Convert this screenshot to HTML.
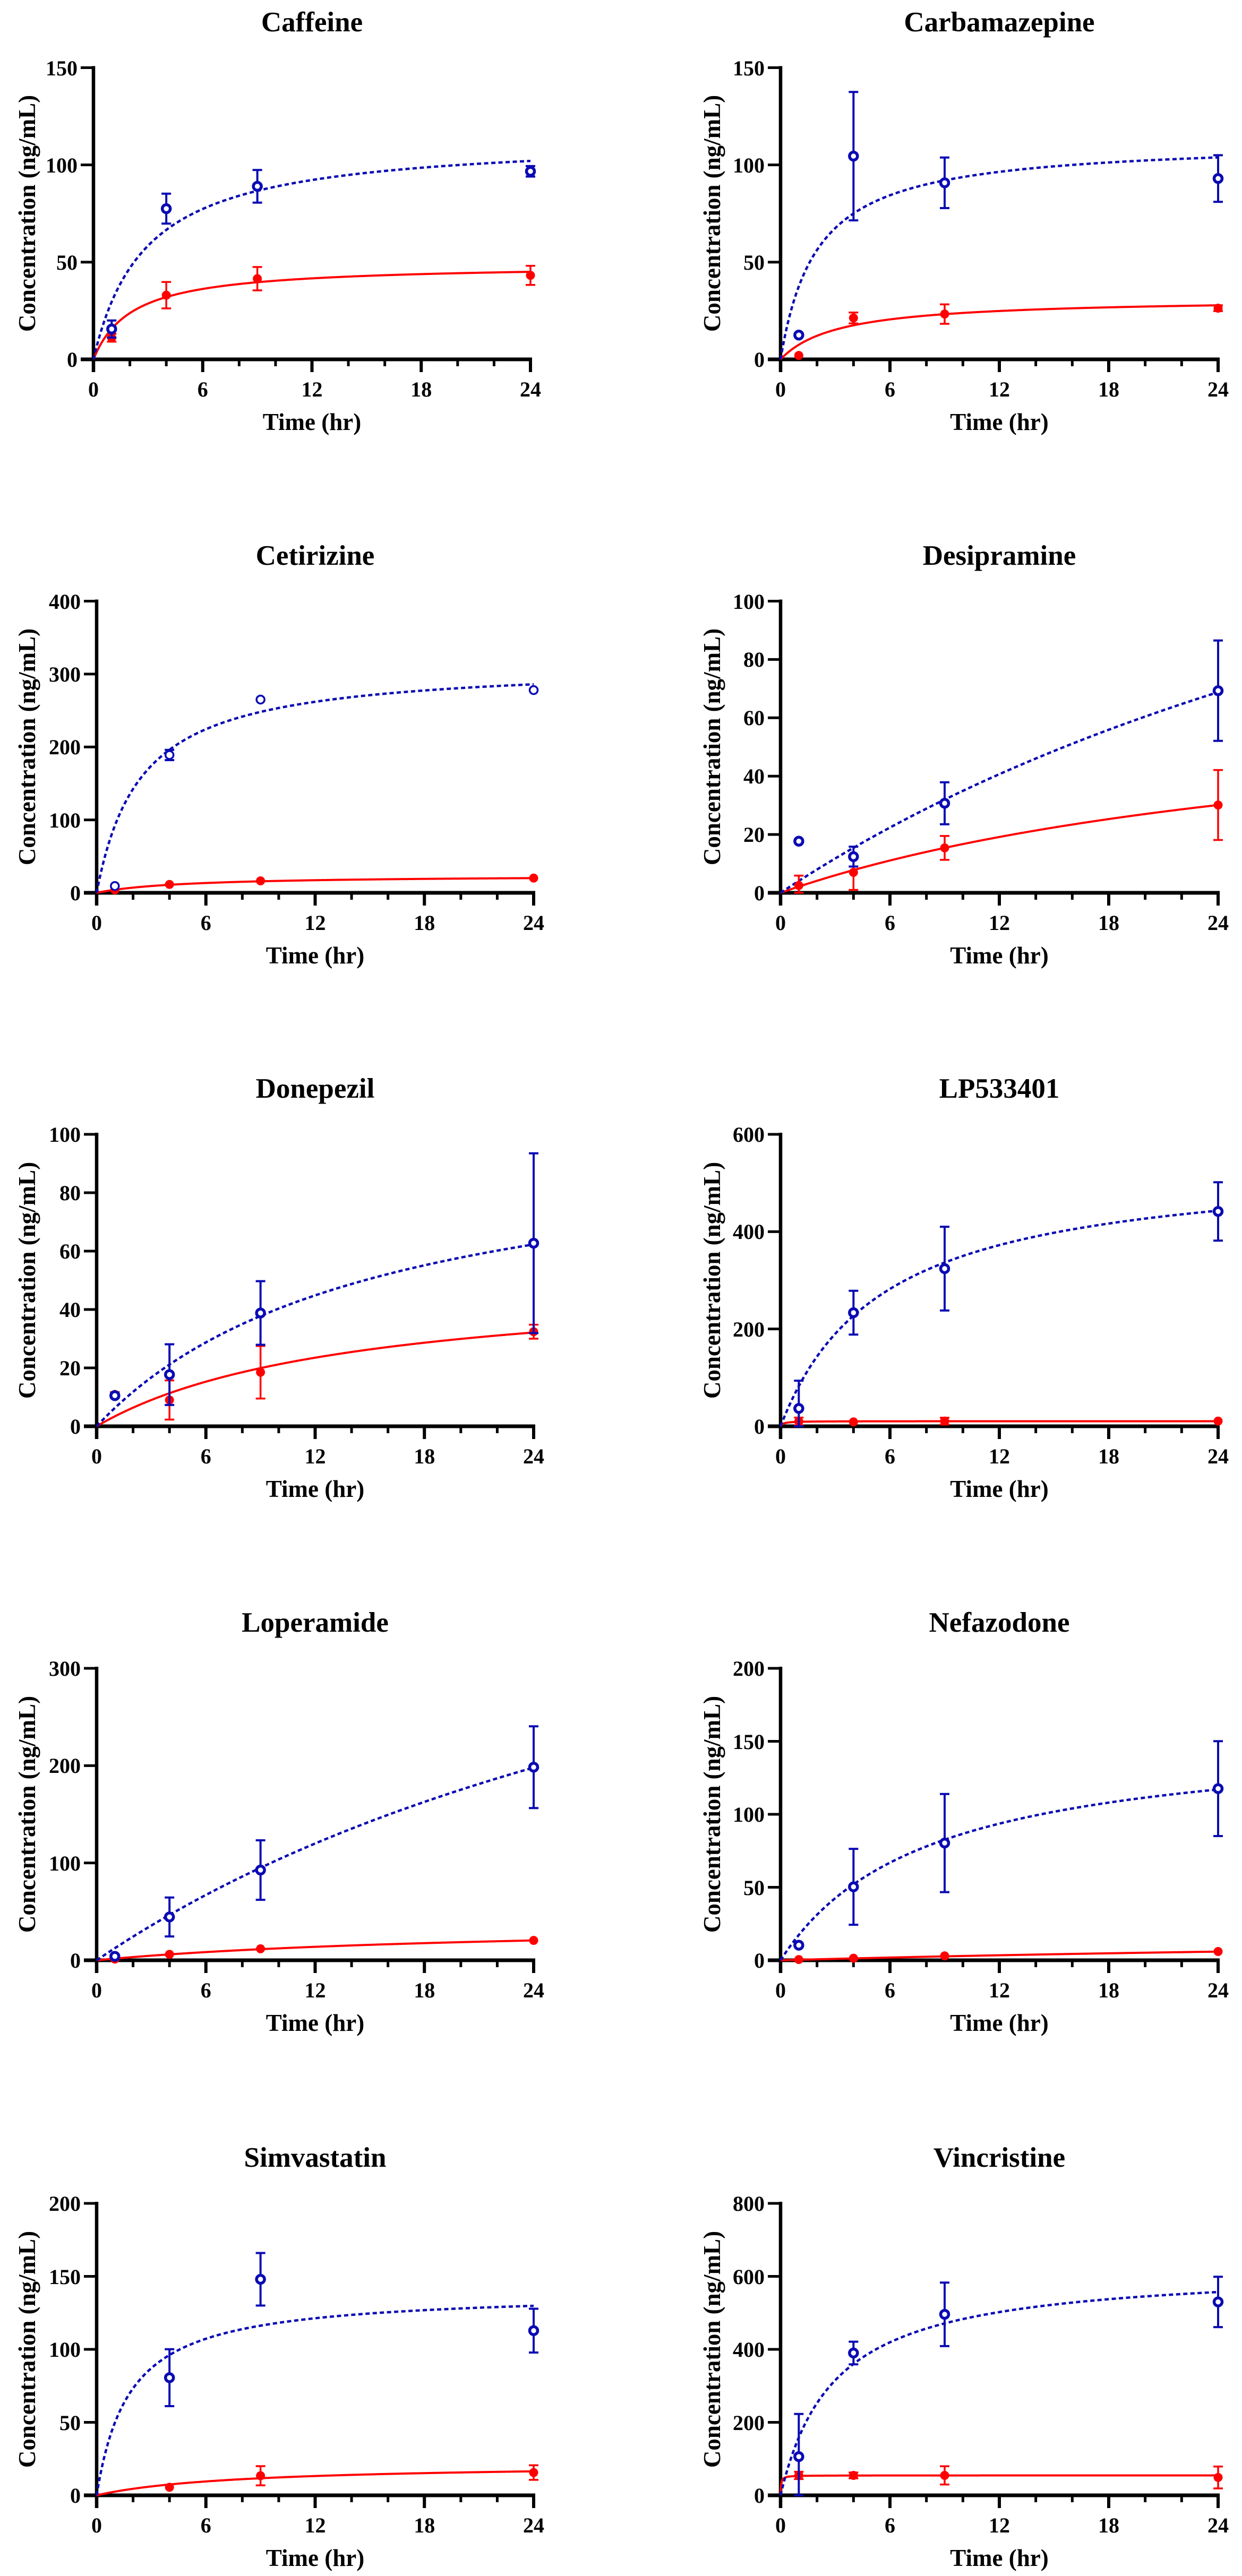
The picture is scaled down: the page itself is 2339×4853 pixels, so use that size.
<!DOCTYPE html>
<html><head><meta charset="utf-8"><style>
html,body{margin:0;padding:0;background:#fff;}
svg{display:block;}
text{font-family:"Liberation Serif","Times New Roman",serif;font-weight:bold;fill:#000;}
.t{font-size:53px;text-anchor:middle;}
.yl{font-size:40px;text-anchor:end;}
.xl{font-size:40px;text-anchor:middle;}
.ax{font-size:45px;text-anchor:middle;}
</style></head><body>
<svg id="s" xmlns="http://www.w3.org/2000/svg" width="2339" height="4853" viewBox="0 0 2339 4853">
<rect x="0" y="0" width="2339" height="4853" fill="#fff"/>
<g id="g"></g>
<g>
<!-- Panel 1 Caffeine -->
<text class="t" x="587.5" y="59">Caffeine</text>
<text class="yl" x="146" y="691">0</text><text class="yl" x="146" y="508">50</text><text class="yl" x="146" y="325">100</text><text class="yl" x="146" y="142">150</text>
<text class="xl" x="176" y="747">0</text><text class="xl" x="381.75" y="747">6</text><text class="xl" x="587.5" y="747">12</text><text class="xl" x="793.25" y="747">18</text><text class="xl" x="999" y="747">24</text>
<text class="ax" x="587.5" y="810">Time (hr)</text>
<text class="ax" transform="translate(66,402) rotate(-90)">Concentration (ng/mL)</text>
<!-- Panel 2 Carbamazepine -->
<text class="t" x="1882" y="59">Carbamazepine</text>
<text class="yl" x="1440" y="691">0</text><text class="yl" x="1440" y="508">50</text><text class="yl" x="1440" y="325">100</text><text class="yl" x="1440" y="142">150</text>
<text class="xl" x="1470" y="747">0</text><text class="xl" x="1676" y="747">6</text><text class="xl" x="1882" y="747">12</text><text class="xl" x="2088" y="747">18</text><text class="xl" x="2294" y="747">24</text>
<text class="ax" x="1882" y="810">Time (hr)</text>
<text class="ax" transform="translate(1356,402) rotate(-90)">Concentration (ng/mL)</text>
<!-- Panel 3 Cetirizine -->
<text class="t" x="593.5" y="1064">Cetirizine</text>
<text class="yl" x="152" y="1696">0</text><text class="yl" x="152" y="1559">100</text><text class="yl" x="152" y="1421">200</text><text class="yl" x="152" y="1284">300</text><text class="yl" x="152" y="1147">400</text>
<text class="xl" x="182" y="1752">0</text><text class="xl" x="387.75" y="1752">6</text><text class="xl" x="593.5" y="1752">12</text><text class="xl" x="799.25" y="1752">18</text><text class="xl" x="1005" y="1752">24</text>
<text class="ax" x="593.5" y="1815">Time (hr)</text>
<text class="ax" transform="translate(66,1407) rotate(-90)">Concentration (ng/mL)</text>
<!-- Panel 4 Desipramine -->
<text class="t" x="1882" y="1064">Desipramine</text>
<text class="yl" x="1440" y="1696">0</text><text class="yl" x="1440" y="1586">20</text><text class="yl" x="1440" y="1476">40</text><text class="yl" x="1440" y="1366">60</text><text class="yl" x="1440" y="1256">80</text><text class="yl" x="1440" y="1147">100</text>
<text class="xl" x="1470" y="1752">0</text><text class="xl" x="1676" y="1752">6</text><text class="xl" x="1882" y="1752">12</text><text class="xl" x="2088" y="1752">18</text><text class="xl" x="2294" y="1752">24</text>
<text class="ax" x="1882" y="1815">Time (hr)</text>
<text class="ax" transform="translate(1356,1407) rotate(-90)">Concentration (ng/mL)</text>
<!-- Panel 5 Donepezil -->
<text class="t" x="593.5" y="2068">Donepezil</text>
<text class="yl" x="152" y="2701">0</text><text class="yl" x="152" y="2591">20</text><text class="yl" x="152" y="2481">40</text><text class="yl" x="152" y="2371">60</text><text class="yl" x="152" y="2261">80</text><text class="yl" x="152" y="2151">100</text>
<text class="xl" x="182" y="2757">0</text><text class="xl" x="387.75" y="2757">6</text><text class="xl" x="593.5" y="2757">12</text><text class="xl" x="799.25" y="2757">18</text><text class="xl" x="1005" y="2757">24</text>
<text class="ax" x="593.5" y="2820">Time (hr)</text>
<text class="ax" transform="translate(66,2412) rotate(-90)">Concentration (ng/mL)</text>
<!-- Panel 6 LP533401 -->
<text class="t" x="1882" y="2068">LP533401</text>
<text class="yl" x="1440" y="2701">0</text><text class="yl" x="1440" y="2518">200</text><text class="yl" x="1440" y="2334">400</text><text class="yl" x="1440" y="2151">600</text>
<text class="xl" x="1470" y="2757">0</text><text class="xl" x="1676" y="2757">6</text><text class="xl" x="1882" y="2757">12</text><text class="xl" x="2088" y="2757">18</text><text class="xl" x="2294" y="2757">24</text>
<text class="ax" x="1882" y="2820">Time (hr)</text>
<text class="ax" transform="translate(1356,2412) rotate(-90)">Concentration (ng/mL)</text>
<!-- Panel 7 Loperamide -->
<text class="t" x="593.5" y="3074">Loperamide</text>
<text class="yl" x="152" y="3707">0</text><text class="yl" x="152" y="3524">100</text><text class="yl" x="152" y="3340">200</text><text class="yl" x="152" y="3157">300</text>
<text class="xl" x="182" y="3763">0</text><text class="xl" x="387.75" y="3763">6</text><text class="xl" x="593.5" y="3763">12</text><text class="xl" x="799.25" y="3763">18</text><text class="xl" x="1005" y="3763">24</text>
<text class="ax" x="593.5" y="3826">Time (hr)</text>
<text class="ax" transform="translate(66,3418) rotate(-90)">Concentration (ng/mL)</text>
<!-- Panel 8 Nefazodone -->
<text class="t" x="1882" y="3074">Nefazodone</text>
<text class="yl" x="1440" y="3707">0</text><text class="yl" x="1440" y="3570">50</text><text class="yl" x="1440" y="3432">100</text><text class="yl" x="1440" y="3295">150</text><text class="yl" x="1440" y="3157">200</text>
<text class="xl" x="1470" y="3763">0</text><text class="xl" x="1676" y="3763">6</text><text class="xl" x="1882" y="3763">12</text><text class="xl" x="2088" y="3763">18</text><text class="xl" x="2294" y="3763">24</text>
<text class="ax" x="1882" y="3826">Time (hr)</text>
<text class="ax" transform="translate(1356,3418) rotate(-90)">Concentration (ng/mL)</text>
<!-- Panel 9 Simvastatin -->
<text class="t" x="593.5" y="4082">Simvastatin</text>
<text class="yl" x="152" y="4715">0</text><text class="yl" x="152" y="4578">50</text><text class="yl" x="152" y="4440">100</text><text class="yl" x="152" y="4303">150</text><text class="yl" x="152" y="4165">200</text>
<text class="xl" x="182" y="4771">0</text><text class="xl" x="387.75" y="4771">6</text><text class="xl" x="593.5" y="4771">12</text><text class="xl" x="799.25" y="4771">18</text><text class="xl" x="1005" y="4771">24</text>
<text class="ax" x="593.5" y="4834">Time (hr)</text>
<text class="ax" transform="translate(66,4426) rotate(-90)">Concentration (ng/mL)</text>
<!-- Panel 10 Vincristine -->
<text class="t" x="1882" y="4082">Vincristine</text>
<text class="yl" x="1440" y="4715">0</text><text class="yl" x="1440" y="4578">200</text><text class="yl" x="1440" y="4440">400</text><text class="yl" x="1440" y="4303">600</text><text class="yl" x="1440" y="4165">800</text>
<text class="xl" x="1470" y="4771">0</text><text class="xl" x="1676" y="4771">6</text><text class="xl" x="1882" y="4771">12</text><text class="xl" x="2088" y="4771">18</text><text class="xl" x="2294" y="4771">24</text>
<text class="ax" x="1882" y="4834">Time (hr)</text>
<text class="ax" transform="translate(1356,4426) rotate(-90)">Concentration (ng/mL)</text>
</g>
</svg>
<script>
(function(){
var NS='http://www.w3.org/2000/svg';
var G=document.getElementById('g');
function el(tag,a){var e=document.createElementNS(NS,tag);for(var k in a)e.setAttribute(k,a[k]);G.appendChild(e);return e;}
var BLUE='#0a0ab4',RED='#ff0000';
var P=[
{x0:176,x1:999,yT:127.5,yB:677,ymax:150,step:50,
 b:{B:114.2,K:2.86,pts:[[1,15.6,4.4],[4,77.5,7.7],[9,89,8.4],[24,96.7,2.7]]},
 r:{B:49,K:2.12,pts:[[1,11.1,2],[4,33,6.8],[9,41.5,6],[24,43.2,4.9]]}},
{x0:1470,x1:2294,yT:127.5,yB:677,ymax:150,step:50,
 b:{B:112.5,K:2.0,pts:[[1,12.5,0],[4,104.5,33],[9,90.8,13],[24,93,12]]},
 r:{B:31.5,K:3.2,pts:[[1,2,0],[4,21.3,2.8],[9,23.3,5],[24,26.3,1.5]]}},
{x0:182,x1:1005,yT:1132.5,yB:1682,ymax:400,step:100,thin:true,
 b:{B:314.8,K:2.42,pts:[[1,9.3,0],[4,189,7],[9,265,0],[24,278,0]]},
 r:{B:24.2,K:4.8,pts:[[1,4,0],[4,11.5,0],[9,16.4,0],[24,20.2,0]]}},
{x0:1470,x1:2294,yT:1132.5,yB:1682,ymax:100,step:20,
 b:{B:223,K:53.8,pts:[[1,17.7,0],[4,12.4,3.4],[9,30.7,7.2],[24,69.3,17.2]]},
 r:{B:70.5,K:32.2,pts:[[1,2.5,3.4],[4,7,6],[9,15.4,4.1],[24,30.1,12]]}},
{x0:182,x1:1005,yT:2137,yB:2687,ymax:100,step:20,
 b:{B:102,K:15.3,pts:[[1,10.5,0.8],[4,17.7,10.4],[9,38.8,10.9],[24,62.7,30.8]]},
 r:{B:50.8,K:13.95,pts:[[1,10.9,0.8],[4,9,6.7],[9,18.5,9],[24,32.4,2.4]]}},
{x0:1470,x1:2294,yT:2137,yB:2687,ymax:600,step:200,
 b:{B:547,K:5.63,pts:[[1,36.7,57],[4,233.5,45],[9,324,86],[24,441.6,60]]},
 r:{B:10.5,K:0.15,pts:[[1,9.8,8],[4,9,0],[9,10.6,7],[24,10.6,0]]}},
{x0:182,x1:1005,yT:3143,yB:3693,ymax:300,step:100,
 b:{B:566,K:44.6,pts:[[1,4,0],[4,44.5,20],[9,92.7,30.6],[24,198.4,42]]},
 r:{B:38.8,K:21.7,pts:[[1,1.2,0],[4,6.1,0],[9,11.8,0],[24,20.4,0]]}},
{x0:1470,x1:2294,yT:3143,yB:3693,ymax:200,step:50,
 b:{B:156,K:8,pts:[[1,10.3,0],[4,50.3,26],[9,80.3,33.6],[24,117.6,32.5]]},
 r:{B:22,K:65,pts:[[1,0.5,0],[4,1.4,0],[9,3,0],[24,6,0]]}},
{x0:182,x1:1005,yT:4151,yB:4701,ymax:200,step:50,
 b:{B:139.6,K:1.81,pts:[[4,80.6,19.5],[9,148,18],[24,112.8,15]]},
 r:{B:21.7,K:7.7,pts:[[4,5.5,0],[9,13.4,6.6],[24,15.6,5]]}},
{x0:1470,x1:2294,yT:4151,yB:4701,ymax:800,step:200,
 b:{B:625.5,K:2.95,pts:[[1,106,117],[4,390,31],[9,496,87],[24,530,69]]},
 r:{B:54.6,K:0.03,pts:[[1,54.6,10],[4,54.6,8],[9,54.6,25],[24,49,30]]}}
];
P.forEach(function(p){
 var sx=function(t){return p.x0+t*(p.x1-p.x0)/24;};
 var sy=function(v){return p.yB-v*(p.yB-p.yT)/p.ymax;};
 el('line',{x1:p.x0,y1:p.yT-3,x2:p.x0,y2:p.yB+24,stroke:'#000','stroke-width':6.5});
 el('line',{x1:p.x0-24,y1:p.yB,x2:p.x1+3,y2:p.yB,stroke:'#000','stroke-width':7});
 for(var v=p.step;v<=p.ymax+0.001;v+=p.step){
  el('line',{x1:p.x0-24,y1:sy(v),x2:p.x0,y2:sy(v),stroke:'#000','stroke-width':5});
 }
 for(var t=2;t<=24;t+=2){
  var major=(t%6===0);
  el('line',{x1:sx(t),y1:p.yB,x2:sx(t),y2:p.yB+(major?24:13),stroke:'#000','stroke-width':major?6:5});
 }
 [['r',p.r],['b',p.b]].forEach(function(c){
  var s=c[1],isB=c[0]==='b',d='';
  for(var i=0;i<=500;i++){var tt=24*Math.pow(i/500,2);var val=s.B*tt/(s.K+tt);d+=(i?'L':'M')+sx(tt).toFixed(2)+','+sy(val).toFixed(2);}
  var a={d:d,fill:'none',stroke:isB?BLUE:RED,'stroke-width':isB?4.5:4};
  if(isB)a['stroke-dasharray']='8 5.5';
  el('path',a);
 });
 [['r',p.r],['b',p.b]].forEach(function(c){
  var s=c[1],isB=c[0]==='b',col=isB?BLUE:RED,sw=isB?4:3.5;
  s.pts.forEach(function(q){
   var x=sx(q[0]);
   if(q[2]>0){
    var lo=Math.max(q[1]-q[2],0),hi=q[1]+q[2];
    el('line',{x1:x,y1:sy(lo),x2:x,y2:sy(hi),stroke:col,'stroke-width':sw});
    el('line',{x1:x-9,y1:sy(lo),x2:x+9,y2:sy(lo),stroke:col,'stroke-width':sw});
    el('line',{x1:x-9,y1:sy(hi),x2:x+9,y2:sy(hi),stroke:col,'stroke-width':sw});
   }
   if(isB){
    el('circle',{cx:x,cy:sy(q[1]),r:7.5,fill:'#fff',stroke:BLUE,'stroke-width':p.thin?3.5:5.5});
   }else{
    el('circle',{cx:x,cy:sy(q[1]),r:8.5,fill:RED});
   }
  });
 });
});
})();
</script>
</body></html>
